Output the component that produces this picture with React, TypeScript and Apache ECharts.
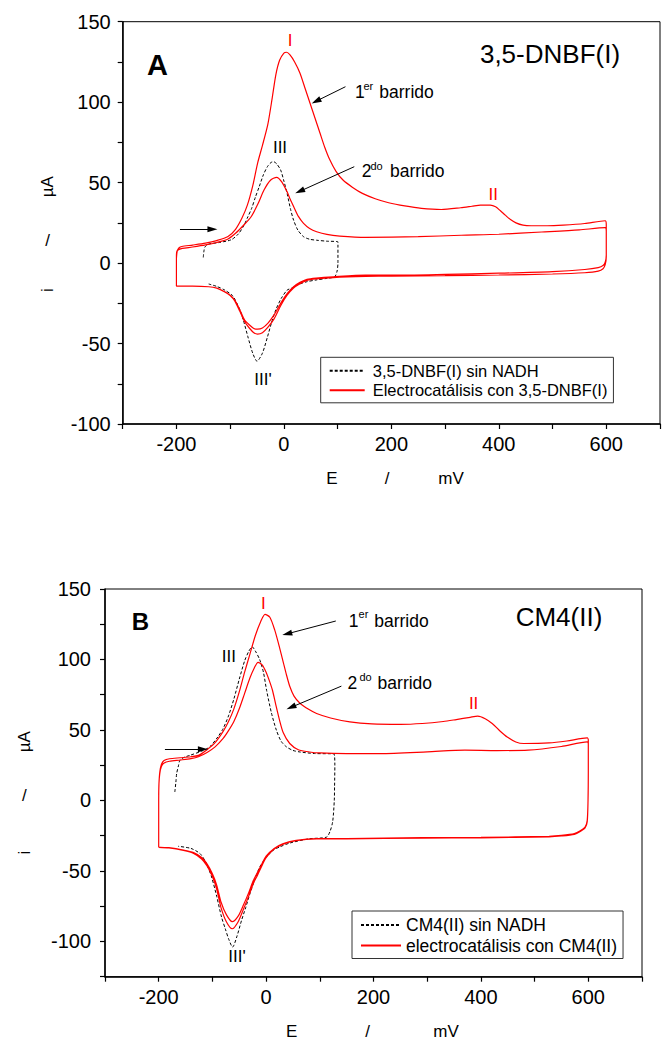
import React, { useEffect, useRef } from 'react';
import * as echarts from 'echarts';

const FONT = '"Liberation Sans", Arial, Helvetica, sans-serif';

// ---------- axis definitions ----------
const xExtent = [-300, 700];
const xStep = 100;
const xTickLabels = [-200, 0, 200, 400, 600];
const yExtentA = [-100, 150];
const yExtentB = [-125, 150];
const yStep = 25;
const yTickLabels = [-100, -50, 0, 50, 100, 150];

// ---------- series names ----------
const namesA = ['3,5-DNBF(I) sin NADH', 'Electrocatálisis con 3,5-DNBF(I)'];
const namesB = ['CM4(II) sin NADH', 'electrocatálisis con CM4(II)'];

// ---------- panel A data (E / mV, i / µA) ----------
const dashA = [
  [-150, 3.5], [-149, 7], [-147, 10], [-140, 11.8], [-120, 12.8], [-98, 14.5], [-85, 18], [-75, 23],
  [-67, 28.8], [-60, 34], [-53, 41], [-46, 47.4], [-38, 55], [-30.5, 60], [-24, 62.5], [-19, 63],
  [-13, 61.5], [-6, 57.8], [0, 51], [6, 43.3], [12, 34], [18, 26.7], [26, 20.5], [36.6, 16.4],
  [48, 14.8], [61, 14.2], [80, 13.6], [100.6, 13.2], [100.6, 0], [99, -5], [94.5, -8.5], [80, -9.5],
  [60, -10.5], [42.6, -11.6], [25, -13.5], [15, -15.5], [6, -16.8], [-5, -22], [-15, -29], [-23, -37],
  [-30.5, -45.8], [-40, -56], [-50, -61], [-58, -56], [-67, -45.8], [-75, -36], [-82, -29], [-95, -20.5],
  [-110, -16.8], [-125, -14.5], [-140, -13],
];

const redA = [
  // first anodic scan
  [-200, 3], [-198.5, 7.5], [-195, 9.5], [-190, 10.3], [-170, 11.2], [-146, 12.4], [-125, 14], [-104, 16.5],
  [-90, 21], [-78, 28], [-68, 36], [-58, 48], [-49, 62], [-40, 73], [-30, 86], [-22, 102], [-15, 117],
  [-8, 126], [0, 130.5], [5, 131], [11, 129.5], [20, 125], [30, 118], [40, 108], [49, 99], [58, 90],
  [67, 81], [76, 72], [85, 64.5], [97, 57], [110, 51.6], [128, 47], [146, 43.3], [170, 40], [195, 37.5],
  [225, 35.5], [256, 34], [293, 33.3], [329, 34.4], [350, 35.3], [366, 36], [384, 36], [394, 35],
  [403, 32.5], [412, 29.8], [421, 27.2], [432, 25], [445, 23.6], [460, 23.2], [490, 23.2], [520, 23.6],
  [560, 24.6], [598, 26.3],
  // first cathodic scan
  [600, 24], [600, 5], [598, 0.5], [594, -1.5], [585, -2.8], [560, -4], [500, -5.3], [400, -6.3],
  [300, -7], [200, -7.5], [152, -7.5], [92, -8.5], [60, -9.3], [43, -10.1], [30, -12], [18, -14.7],
  [6, -19], [-6, -25], [-18, -32], [-30, -37.5], [-40, -40.3], [-49, -41], [-56, -40.6], [-64, -38.5],
  [-73, -35.4], [-82, -29], [-91.5, -23], [-100, -20], [-110, -17.8], [-125, -15.6], [-140, -14.7],
  [-170, -14.3], [-200, -14.3],
  // second anodic scan
  [-200, 5], [-199, 7.5], [-195, 8.5], [-189, 9.1], [-170, 10], [-146, 11.3], [-125, 12.8], [-104, 15],
  [-90, 18.5], [-75, 23.5], [-61, 28.8], [-48, 37], [-37, 45.4], [-25, 51.5], [-13.5, 53.3], [-4, 50.5],
  [6, 44.3], [12, 39.5], [18.3, 35], [27, 29], [36.6, 24.7], [48, 21.5], [61, 19.5], [80, 17.8],
  [104, 16.8], [152, 16], [250, 16.4], [330, 17.3], [400, 17.9], [480, 19.3], [550, 20.6], [598, 22],
  // second cathodic scan
  [600, 20], [600, 4], [598, -1], [594, -3.5], [585, -5], [560, -6], [500, -6.8], [400, -7.4],
  [300, -7.8], [200, -8.1], [152, -8.3], [92, -9], [60, -9.9], [43, -10.8], [30, -12.8], [18, -15.5],
  [6, -20], [-6, -26.5], [-18, -34.5], [-30, -40], [-40, -43.3], [-49, -44.1], [-56, -43.3], [-64, -40.5],
  [-73, -36.5], [-82, -30], [-91.5, -23.5], [-100, -20.2], [-110, -17.9], [-125, -15.6], [-140, -14.7],
  [-170, -14.3], [-200, -14.3],
];

// ---------- panel B data ----------
const dashB = [
  [-170, 6], [-168, 13], [-166.6, 19], [-163, 25], [-160.5, 28.5], [-152, 30.7], [-142, 32], [-120, 35],
  [-105, 38], [-90, 45], [-80, 51], [-70, 60], [-60, 72], [-50, 86], [-40, 99], [-32, 106], [-26, 109],
  [-20, 106], [-12, 100], [-5, 91], [1, 78], [10, 62], [19, 50], [28, 42], [38, 38], [50, 35.5],
  [63, 34.4], [90, 33.3], [126.5, 33], [128, 25], [127.5, 10], [127, 0], [124, -15], [119, -22],
  [112.5, -26], [80, -27.2], [44, -30.2], [25, -33], [13, -35.4], [0, -40.5], [-11.6, -47], [-20, -55],
  [-30, -66], [-38, -76], [-45.7, -85], [-54, -96], [-62.4, -104], [-70, -98], [-76, -91], [-83, -82.7],
  [-92, -68], [-101.5, -54.3], [-112, -44], [-123, -37.7], [-140, -34], [-163.6, -32.5],
];

const redB = [
  // first anodic scan
  [-200, 4], [-199.5, 12], [-198, 20], [-195, 25.5], [-190, 28.3], [-180, 29.6], [-160, 30.3], [-140, 31],
  [-126, 32], [-110, 36], [-95, 41], [-80, 49], [-70, 56], [-60, 65], [-50, 77], [-40, 91], [-30, 104],
  [-20, 117], [-10, 127], [-2, 132], [7, 130], [16, 121], [24, 110], [32, 98], [38, 89], [44, 81],
  [52, 74], [63, 69], [80, 64.5], [94, 61.7], [120, 58.5], [156, 55.7], [197, 54.3], [250, 54],
  [291, 54.6], [330, 56], [354, 57.4], [380, 59], [394, 59.8], [408, 58], [421, 54.6], [435, 49.5],
  [449, 45], [465, 41.5], [480, 40.4], [527, 40.8], [560, 42.2], [598, 44.4],
  // first cathodic scan
  [600, 43], [600, 20], [599.5, 0], [598, -14], [594, -18.8], [585, -21.5], [574, -23.5], [550, -24.8],
  [527, -25.4], [400, -26.2], [291, -26.4], [150, -27], [94, -27], [56, -28.2], [32, -30.6], [15, -34],
  [0, -39.5], [-8, -45], [-16, -51], [-24, -57], [-32, -65], [-42, -74], [-52, -82], [-63, -86],
  [-74, -81], [-84, -72], [-92, -60], [-100, -52], [-110, -45], [-120, -40.5], [-135, -37], [-154, -35.2],
  [-181, -33.5], [-200, -33],
  // second anodic scan
  [-200, 0], [-199.5, 12], [-198, 19], [-195, 24], [-190, 26.5], [-180, 27.8], [-160, 28.7], [-140, 29.7],
  [-126, 31], [-110, 34], [-95, 38], [-80, 44], [-70, 49.5], [-60, 56], [-50, 65], [-40, 76], [-30, 87],
  [-22, 94], [-15, 98], [-7, 96], [0, 91], [6, 85], [12, 78], [18, 68], [25, 57], [32, 48], [44, 40.4],
  [60, 36], [81, 34.4], [100, 33.7], [150, 33.3], [213, 33.3], [300, 34.5], [370, 35.7], [430, 35.4],
  [488, 35.7], [550, 38.3], [598, 41.5],
  // second cathodic scan
  [600, 40], [600, 20], [599.5, 0], [598, -15], [594, -19.5], [585, -22], [574, -24], [550, -25.2],
  [527, -25.8], [400, -26.5], [291, -26.7], [150, -27.2], [94, -27.3], [56, -28.5], [32, -31], [15, -34.5],
  [0, -40.5], [-8, -46.5], [-16, -53], [-24, -59], [-32, -67.5], [-42, -77], [-52, -86], [-63, -91],
  [-74, -86], [-84, -76], [-92, -63], [-100, -54], [-110, -46.5], [-120, -41.5], [-135, -37.5],
  [-154, -35.5], [-181, -33.7], [-200, -33.2],
];

// ---------- annotation arrows (data coordinates: start, end) ----------
const arrowsA = [
  [[114.6, 109.6], [60, 100.6]],
  [[131, 59.9], [29.6, 44.6]],
  [[-193.4, 21.1], [-133, 21.1]],
];
const arrowsB = [
  [[129.8, 127.3], [39.2, 118.2]],
  [[140.2, 81.1], [46.6, 66.1]],
  [[-188.4, 36.4], [-117.7, 36.4]],
];

// ---------- text annotations (layout) ----------
type Lbl = { t: string; x: number; y: number; s: number; c?: string; b?: boolean; a?: string; r?: boolean };
const textsA: Lbl[] = [
  { t: 'A', x: 157.5, y: 65, s: 29, b: true },
  { t: '3,5-DNBF(I)', x: 550, y: 54, s: 26 },
  { t: 'I', x: 290, y: 40, s: 17, c: '#ff0000' },
  { t: '1', x: 355, y: 91.7, s: 17.5, a: 'left' },
  { t: 'er', x: 363.5, y: 86.3, s: 11, a: 'left' },
  { t: 'barrido', x: 379.3, y: 91.7, s: 17.5, a: 'left' },
  { t: 'III', x: 280, y: 147.7, s: 17 },
  { t: '2', x: 361.7, y: 170.8, s: 17.5, a: 'left' },
  { t: 'do', x: 370.5, y: 165.5, s: 11, a: 'left' },
  { t: 'barrido', x: 390, y: 170.8, s: 17.5, a: 'left' },
  { t: 'II', x: 493.3, y: 194, s: 17, c: '#ff0000' },
  { t: "III'", x: 263, y: 379, s: 17 },
  { t: 'E', x: 332, y: 478, s: 17 },
  { t: '/', x: 387, y: 478, s: 17 },
  { t: 'mV', x: 451, y: 478, s: 17 },
  { t: 'µA', x: 47.5, y: 186.7, s: 17, r: true },
  { t: '/', x: 47.5, y: 240, s: 17 },
  { t: 'i', x: 47.5, y: 290, s: 17, r: true },
];
const textsB: Lbl[] = [
  { t: 'B', x: 140.5, y: 621.2, s: 24, b: true },
  { t: 'CM4(II)', x: 559, y: 617, s: 26 },
  { t: 'I', x: 263.3, y: 603.3, s: 17, c: '#ff0000' },
  { t: '1', x: 348.8, y: 621, s: 17.5, a: 'left' },
  { t: 'er', x: 358.6, y: 613.5, s: 11, a: 'left' },
  { t: 'barrido', x: 374.2, y: 621, s: 17.5, a: 'left' },
  { t: 'III', x: 228.8, y: 656, s: 17 },
  { t: '2', x: 347.6, y: 682.5, s: 17.5, a: 'left' },
  { t: 'do', x: 359.4, y: 676.5, s: 11, a: 'left' },
  { t: 'barrido', x: 377.6, y: 682.5, s: 17.5, a: 'left' },
  { t: 'II', x: 473.6, y: 703.3, s: 17, c: '#ff0000' },
  { t: "III'", x: 237, y: 956.5, s: 17 },
  { t: 'E', x: 291.7, y: 1031, s: 17 },
  { t: '/', x: 367.5, y: 1031, s: 17 },
  { t: 'mV', x: 446, y: 1031, s: 17 },
  { t: 'µA', x: 24.3, y: 741.7, s: 17, r: true },
  { t: '/', x: 24.3, y: 795, s: 17 },
  { t: 'i', x: 24.3, y: 852.5, s: 17, r: true },
];

function xAxis(gridIndex: number, margin: number) {
  return {
    type: 'value', gridIndex, min: xExtent[0], max: xExtent[1], interval: xStep,
    axisLine: { show: true, onZero: false, lineStyle: { color: '#000', width: 1.5 } },
    axisTick: { show: true, inside: false, length: 5, lineStyle: { color: '#000', width: 1.2 } },
    axisLabel: {
      show: true, margin, color: '#000', fontSize: 20, fontFamily: FONT,
      formatter: (v: number) => (xTickLabels.includes(v) ? String(v) : ''),
    },
    splitLine: { show: false },
  };
}
function yAxis(gridIndex: number, ext: number[], margin: number) {
  return {
    type: 'value', gridIndex, min: ext[0], max: ext[1], interval: yStep,
    axisLine: { show: true, onZero: false, lineStyle: { color: '#000', width: 1.5 } },
    axisTick: { show: true, inside: false, length: 5, lineStyle: { color: '#000', width: 1.2 } },
    axisLabel: {
      show: true, margin, color: '#000', fontSize: 20, fontFamily: FONT,
      formatter: (v: number) => (yTickLabels.includes(v) ? String(v) : ''),
    },
    splitLine: { show: false },
  };
}
function redSeries(name: string, data: number[][], idx: number) {
  return {
    type: 'line', name, data, xAxisIndex: idx, yAxisIndex: idx,
    symbol: 'none', showSymbol: false, smooth: 0.25, z: 3,
    lineStyle: { color: '#ff0000', width: 1.2 }, itemStyle: { color: '#ff0000' },
    emphasis: { disabled: true },
  };
}
function dashSeries(name: string, data: number[][], idx: number, arrows: number[][][]) {
  return {
    type: 'line', name, data, xAxisIndex: idx, yAxisIndex: idx,
    symbol: 'none', showSymbol: false, smooth: 0.25, z: 2,
    lineStyle: { color: '#000', width: 1, type: [3, 2] }, itemStyle: { color: '#000' },
    emphasis: { disabled: true },
    markLine: {
      silent: true, animation: false, symbol: ['none', 'triangle'], symbolSize: [6, 10],
      label: { show: false }, emphasis: { disabled: true },
      lineStyle: { color: '#000', width: 1, type: 'solid' },
      data: arrows.map((a) => [{ coord: a[0] }, { coord: a[1] }]),
    },
  };
}
function legend(names: string[], left: number, top: number, itemWidth: number, fontSize: number, gap: number) {
  return {
    show: true, orient: 'vertical', left, top, data: names, selectedMode: false,
    itemWidth, itemHeight: 12, itemGap: 2.5, padding: [5, 6, 4, 8],
    borderColor: '#333', borderWidth: 1, backgroundColor: '#fff',
    itemStyle: { opacity: 0 },
    textStyle: { fontFamily: FONT, fontSize, color: '#000', lineHeight: 16, padding: [0, 0, 0, gap] },
  };
}
function texts(list: Lbl[]) {
  return list.map((l) => ({
    type: 'text', x: l.x, y: l.y, rotation: l.r ? Math.PI / 2 : 0, silent: true, z: 10,
    style: {
      text: l.t, fill: l.c || '#000', fontSize: l.s, fontFamily: FONT,
      fontWeight: l.b ? 'bold' : 'normal', align: l.a || 'center', verticalAlign: 'middle',
    },
  }));
}

export default function App() {
  const ref = useRef<HTMLDivElement>(null);
  useEffect(() => {
    const chart = echarts.init(ref.current!, null, { renderer: 'svg' });
    chart.setOption({
      animation: false,
      backgroundColor: '#fff',
      grid: [
        { left: 122.7, top: 21.7, width: 546.7, height: 402.3, show: true, borderColor: '#000', borderWidth: 1 },
        { left: 105, top: 589, width: 537, height: 387.7, show: true, borderColor: '#000', borderWidth: 1 },
      ],
      xAxis: [xAxis(0, 10), xAxis(1, 10)],
      yAxis: [yAxis(0, yExtentA, 12), yAxis(1, yExtentB, 14)],
      legend: [
        legend(namesA, 320.7, 357.3, 35, 16.5, 3),
        legend(namesB, 352, 911, 40, 17.5, 0),
      ],
      series: [
        dashSeries(namesA[0], dashA, 0, arrowsA),
        redSeries(namesA[1], redA, 0),
        dashSeries(namesB[0], dashB, 1, arrowsB),
        redSeries(namesB[1], redB, 1),
      ],
      graphic: [...texts(textsA), ...texts(textsB)],
    });
    return () => chart.dispose();
  }, []);
  return (
    <div
      ref={ref}
      style={{ position: 'absolute', left: 0, top: 0, width: 663, height: 1039, background: '#fff' }}
    />
  );
}
